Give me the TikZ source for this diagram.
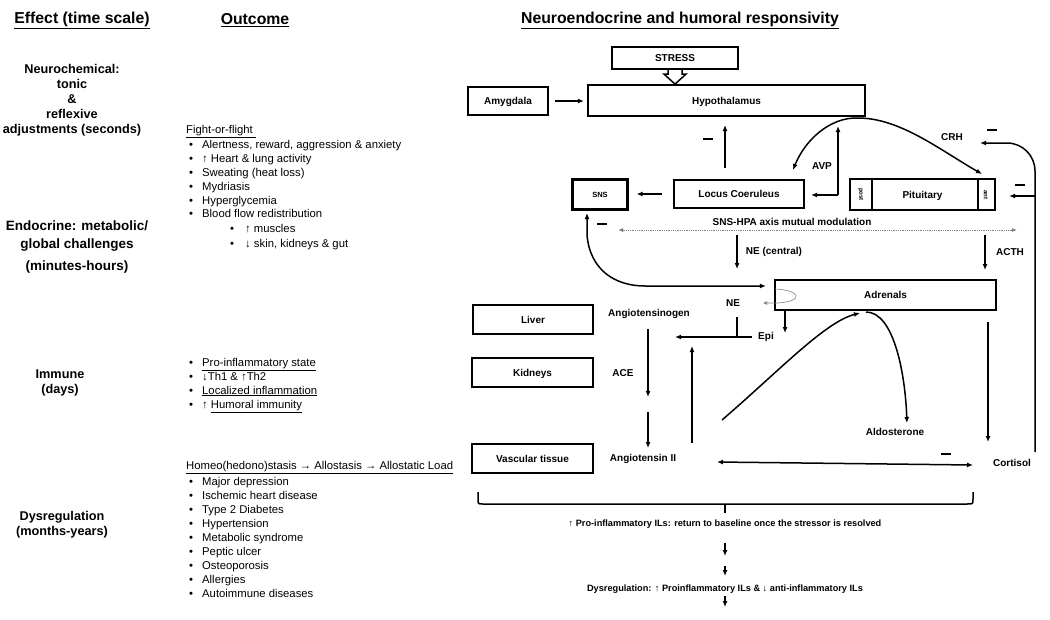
\documentclass[tikz,border=0pt]{standalone}
\usepackage{fontspec}
\setmainfont{Liberation Sans}
\usetikzlibrary{arrows.meta}

\begin{document}
\begin{tikzpicture}[x = 1pt, y = -1pt,
		box/.style = {draw, line width = 2.2pt, inner sep = 0pt, text height = 7pt, text depth = 0pt, font = \bfseries\fontsize{10}{12}\selectfont},
		lbl/.style = {inner sep = 0pt, text height = 7pt, text depth = 0pt, font = \bfseries\fontsize{10}{12}\selectfont},
		arr/.style = {line width = 1.5pt, -{Latex[length = 6pt, width = 5pt]}},
		arrs/.style = {line width = 1.5pt, {Latex[length = 6pt, width = 5pt]}-{Latex[length = 6pt, width = 5pt]}},
		minus/.style = {fill, minimum width = 10pt, minimum height = 2pt, inner sep = 0pt},
		head/.style = {inner sep = 0pt, font = \bfseries\fontsize{15.8}{18}\selectfont},
		timetxt/.style = {inner sep = 0pt, align = center, font = \bfseries\fontsize{12.7}{15}\selectfont},
		item/.style = {anchor = base west, inner sep = 0pt, font = \fontsize{11.3}{13}\selectfont}]
	\useasboundingbox (0, 0) rectangle (1050, 619);
	
	\node[head] (h1) at (82, 20) {\underline{Effect (time scale)}};
	\node[head] (h2) at (255, 20) {\underline{Outcome}};
	\node[head] (h3) at (680, 20) {\underline{Neuroendocrine and humoral responsivity}};
	
	\node[timetxt] (t1) at (72, 100) {Neurochemical:\\tonic\\\&\\reflexive\\adjustments (seconds)};
	\node[timetxt, font = \bfseries\fontsize{13.5}{18}\selectfont] (t2) at (77, 247) {Endocrine: metabolic/\\global challenges\\[4pt](minutes-hours)};
	\node[timetxt] (t3) at (60, 383) {Immune\\(days)};
	\node[timetxt] (t4) at (62, 525) {Dysregulation\\(months-years)};
	
	\node[item] (ff) at (186, 133) {\underline{Fight-or-flight }};
	\foreach \txt [count = \i] in {{Alertness, reward, aggression \& anxiety}, {↑ Heart \& lung activity}, {Sweating (heat loss)}, Mydriasis, Hyperglycemia, {Blood flow redistribution}} {
		\node[item] (ffb\i) at (189, 135 + 13.8 * \i) {•};
		\node[item] (ff\i) at (202, 135 + 13.8 * \i) {\txt};
	}
	\foreach \txt [count = \i] in {↑ muscles, {↓ skin, kidneys \& gut}} {
		\node[item] (bfb\i) at (230, 217 + 15 * \i) {•};
		\node[item] (bf\i) at (245, 217 + 15 * \i) {\txt};
	}
	
	\foreach \txt [count = \i] in {\underline{Pro-inflammatory state}, {↓Th1 \& ↑Th2}, \underline{Localized inflammation}, {↑ \underline{Humoral immunity}}} {
		\node[item] (imb\i) at (189, 352 + 14 * \i) {•};
		\node[item] (im\i) at (202, 352 + 14 * \i) {\txt};
	}
	
	\node[item] (hom) at (186, 469) {\underline{Homeo(hedono)stasis → Allostasis → Allostatic Load}};
	\foreach \txt [count = \i] in {Major depression, Ischemic heart disease, Type 2 Diabetes, Hypertension, Metabolic syndrome, Peptic ulcer, Osteoporosis, Allergies, Autoimmune diseases} {
		\node[item] (dyb\i) at (189, 471 + 14 * \i) {•};
		\node[item] (dy\i) at (202, 471 + 14 * \i) {\txt};
	}
	
	\node[box, minimum width = 126, minimum height = 22] (stress) at (675, 58) {STRESS};
	\node[box, minimum width = 80, minimum height = 28] (amyg) at (508, 101) {Amygdala};
	\node[box, minimum width = 277, minimum height = 31] (hypo) at (726.5, 100.5) {Hypothalamus};
	\node[box, minimum width = 130, minimum height = 28] (lc) at (739, 194) {Locus Coeruleus};
	\node[box, minimum width = 55, minimum height = 30, text height = 5.5pt, font = \bfseries\fontsize{7.5}{9}\selectfont] (sns) at (600, 194.5) {SNS};
	\node[box, minimum width = 145, minimum height = 31] (pit) at (922.5, 194.5) {Pituitary};
	\node[box, minimum width = 221, minimum height = 30] (adren) at (885.5, 295) {Adrenals};
	\node[box, minimum width = 120, minimum height = 29] (liver) at (533, 319.5) {Liver};
	\node[box, minimum width = 121, minimum height = 29] (kidney) at (532.5, 372.5) {Kidneys};
	\node[box, minimum width = 121, minimum height = 29] (vasc) at (532.5, 458.5) {Vascular tissue};
	
	\draw[line width = 2.2pt] (pit.north west) ++(23, 0) -- ++(0, 31);
	\draw[line width = 2.2pt] (pit.north east) ++(-18, 0) -- ++(0, 31);
	\node[lbl, rotate = -90, text height = 4.5pt, font = \bfseries\fontsize{6}{7}\selectfont] (post) at (861.5, 194.5) {post};
	\node[lbl, rotate = -90, text height = 4.5pt, font = \bfseries\fontsize{6}{7}\selectfont] (ant) at (986, 194.5) {ant};
	
	\draw[line width = 1.5pt, fill = white] (stress.south) ++(-7, 0) -- ++(0, 4) -- ++(-4, 0) -- ++(11, 10) -- ++(11, -10) -- ++(-4, 0) -- ++(0, -4);
	
	\node[lbl] (avp) at (822, 166) {AVP};
	\node[lbl] (crh) at (952, 137) {CRH};
	\node[lbl] (acth) at (1010, 252) {ACTH};
	\node[lbl] (modul) at (792, 222) {SNS-HPA axis mutual modulation};
	\node[lbl] (nec) at (774, 251) {NE (central)};
	\node[lbl] (ne) at (733, 303) {NE};
	\node[lbl] (epi) at (766, 336) {Epi};
	\node[lbl] (angen) at (649, 313) {Angiotensinogen};
	\node[lbl] (ace) at (623, 373) {ACE};
	\node[lbl] (ang2) at (643, 458) {Angiotensin II};
	\node[lbl] (aldo) at (895, 432) {Aldosterone};
	\node[lbl] (cort) at (1012, 463) {Cortisol};
	
	\coordinate (avpj) at (838, 195);
	\coordinate (avpt) at (838, 126);
	\coordinate (crhtop) at (858, 118);
	\coordinate (fbbot) at (1035, 452);
	\coordinate (fbj) at (1035, 196);
	\coordinate (modl) at (618, 230);
	\coordinate (modr) at (1017, 230);
	\coordinate (epij) at (737, 337);
	\coordinate (angup) at (692, 443);
	\coordinate (aldotop) at (866, 312);
	
	\draw[arr] ([xshift = 6]amyg.east) -- ([xshift = -3]hypo.west |- amyg.east);
	\draw[arr] (725, 168) -- (725, 125);
	\draw[arr] ([xshift = -11]lc.west) -- ([xshift = 8]sns.east |- lc.west);
	\draw[arr] (avpj) -- (avpt);
	\draw[arr] (avpj) -- ([xshift = 6]lc.east |- avpj);
	\draw[arr] (crhtop) .. controls (830, 117) and (805, 140) .. (793, 170);
	\draw[arr] (crhtop) .. controls (900, 118) and (940, 150) .. (982, 174);
	\draw[arr, rounded corners = 28] (fbbot) -- (1035, 143) -- (980, 143);
	\draw[arr] (fbj) -- ([xshift = 13]pit.east |- fbj);
	\draw[gray, densely dotted, line width = 0.8pt, {Latex[length = 5pt, width = 4pt]}-{Latex[length = 5pt, width = 4pt]}] (modl) -- (modr);
	\draw[arr] (737, 235) -- (737, 269);
	\draw[arr] (985, 235) -- (985, 270);
	\draw[arrs] (587, 213) -- (587, 235) .. controls (590, 270) and (615, 286) .. (645, 286) -- ([xshift = -8]adren.west |- 0, 286);
	\draw[gray, line width = 0.6pt, -{Latex[length = 4pt, width = 4pt]}] (775, 289) .. controls (800, 290) and (805, 301) .. (778, 303) -- (763, 303);
	\draw[arr] (adren.south -| 785, 0) -- (785, 333);
	\draw[arr] (752, 337) -- (675, 337);
	\draw[line width = 1.5pt] (737, 317) -- (epij);
	\draw[arr] (648, 329) -- (648, 397);
	\draw[arr] (648, 412) -- (648, 448);
	\draw[arr] (angup) -- (692, 346);
	\draw[arr] (722, 420) .. controls (780, 370) and (825, 322) .. (860, 313);
	\draw[arr] (aldotop) .. controls (893, 312) and (905, 370) .. (907, 423);
	\draw[arr] (988, 322) -- (988, 442);
	\draw[arrs] (717, 462) -- (973, 465);
	
	\node[minus] (m1) at (708, 139) {};
	\node[minus] (m2) at (992, 130) {};
	\node[minus] (m3) at (1020, 185) {};
	\node[minus] (m4) at (602, 224) {};
	\node[minus] (m5) at (946, 454) {};
	
	\draw[line width = 1.5pt] (478, 492) -- (478, 499) .. controls (478, 504) .. (483, 504) -- (967, 504) .. controls (973, 504) .. (973, 499) -- (973, 492);
	\draw[line width = 1.5pt] (725, 504) -- (725, 513);
	\node[lbl, font = \bfseries\fontsize{9.2}{11}\selectfont] (ils) at (725, 523) {↑ Pro-inflammatory ILs: return to baseline once the stressor is resolved};
	\node[lbl, font = \bfseries\fontsize{9.2}{11}\selectfont] (dysil) at (725, 588) {Dysregulation: ↑ Proinflammatory ILs \& ↓ anti-inflammatory ILs};
	\draw[arr] (725, 543) -- (725, 556);
	\draw[arr] (725, 566) -- (725, 576);
	\draw[arr] (725, 596) -- (725, 607);
\end{tikzpicture}
\end{document}
